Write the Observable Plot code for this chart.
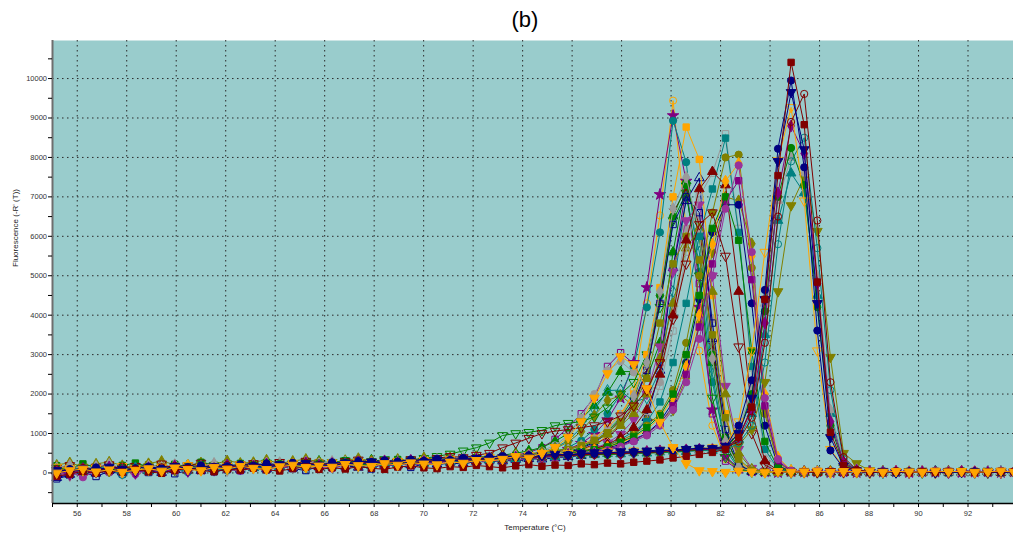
<!DOCTYPE html>
<html><head><meta charset="utf-8">
<script src="https://cdn.jsdelivr.net/npm/d3@7"></script>
<script src="https://cdn.jsdelivr.net/npm/@observablehq/plot@0.6"></script>
<style>
html,body{margin:0;padding:0;background:#fff;overflow:hidden;}
#wrap{position:relative;width:1013px;height:538px;overflow:hidden;}
#title{height:40px;width:1050px;text-align:center;font:22px "Liberation Sans",Arial,sans-serif;line-height:40px;color:#000;}
#chart svg{display:block;max-width:none;}
</style></head><body>
<div id="wrap"><div id="title">(b)</div><div id="chart"></div></div>
<script>
// Temperature grid (°C)
const temps = [55.17,55.70,56.23,56.76,57.29,57.82,58.35,58.88,59.41,59.94,60.47,61.00,61.53,62.06,62.59,
63.12,63.65,64.18,64.71,65.24,65.77,66.30,66.83,67.36,67.89,68.42,68.95,69.48,70.01,70.54,
71.07,71.60,72.13,72.66,73.19,73.72,74.25,74.78,75.31,75.84,76.37,76.90,77.43,77.96,78.49,
79.02,79.55,80.08,80.61,81.14,81.67,82.20,82.73,83.26,83.79,84.32,84.85,85.38,85.91,86.44,
86.97,87.50,88.03,88.56,89.09,89.62,90.15,90.68,91.21,91.74,92.27,92.80,93.33,93.86,94.39];

const xMajor = [56,58,60,62,64,66,68,70,72,74,76,78,80,82,84,86,88,90,92,94];
const xMinor = [55,57,59,61,63,65,67,69,71,73,75,77,79,81,83,85,87,89,91,93];
const yMajor = [0,1000,2000,3000,4000,5000,6000,7000,8000,9000,10000];
const yMinor = [-500,500,1500,2500,3500,4500,5500,6500,7500,8500,9500,10500];

// -R'(T) values per well
const s01 = [40,90,60,120,80,150,110,70,130,160,100,140,180,120,170,
150,200,170,220,190,240,210,260,230,200,270,250,290,260,300,
280,320,300,350,330,380,360,420,400,480,560,700,950,1400,2100,
4300,6530,9440,6200,3100,1200,350,90,40,20,30,10,40,20,30,
10,30,20,40,10,30,20,10,40,20,30,10,20,40,30];
const s02 = [-60,20,80,40,110,60,130,90,50,120,150,90,160,130,110,
180,140,210,170,230,200,180,250,220,270,240,290,260,310,280,
330,300,360,340,390,370,430,460,520,600,750,980,1350,1900,2800,
4700,7060,9060,7400,4200,1600,420,120,50,30,10,40,20,30,10,
30,10,40,20,30,10,30,20,40,10,20,30,10,30,20];
const s03 = [80,30,110,70,40,130,90,150,100,70,140,180,120,160,200,
170,220,190,150,240,210,260,230,280,250,220,290,270,320,290,
340,310,370,350,400,440,420,480,540,650,820,1100,1500,2000,2700,
4200,6100,8930,7880,5100,2300,700,150,60,20,40,10,30,20,40,
20,10,30,40,20,10,30,20,10,40,30,20,10,30,20];
const s04 = [0,60,100,30,80,20,70,110,50,130,90,60,140,100,170,
120,90,160,200,140,180,150,220,190,170,240,200,260,230,210,
280,250,320,300,350,420,380,500,650,900,1300,1900,2520,2950,2750,
2140,1290,650,240,60,40,20,50,30,10,40,20,30,50,20,
40,30,50,20,40,30,20,50,30,40,20,30,50,20,40];
const s05 = [100,40,150,90,60,120,180,100,140,80,170,130,110,190,150,
210,170,140,230,190,250,220,180,270,240,210,280,250,310,270,
330,290,360,400,380,450,520,640,850,1150,1500,1920,2700,3050,2770,
2130,2800,5200,7200,4800,1500,300,80,30,50,20,40,10,30,20,
30,20,10,40,20,30,10,20,30,10,40,20,30,10,20];
const s06 = [50,120,80,160,110,70,140,190,100,150,210,120,170,230,140,
180,240,200,260,220,300,250,210,280,330,260,310,290,350,320,
380,340,410,390,450,500,560,650,800,1000,1370,1700,2040,2570,2570,
2400,3300,5600,7400,6000,2800,700,150,40,20,50,30,10,40,20,
10,40,20,30,10,20,40,30,20,10,30,40,20,10,30];
const s07 = [130,70,20,100,160,90,50,120,180,140,100,170,210,150,190,
230,160,200,250,180,230,270,200,240,300,260,230,300,280,330,
310,360,330,390,440,410,480,560,700,950,1400,2000,2600,2830,2550,
2000,2300,4100,6200,6500,3900,1300,250,60,30,20,40,10,30,20,
20,30,10,20,40,30,10,20,30,40,10,20,30,20,10];
const s08 = [20,100,50,140,90,40,130,80,160,110,60,150,200,140,110,
190,150,230,180,140,260,200,170,240,280,220,260,230,290,340,
300,350,320,370,420,390,460,530,640,820,1150,1600,2090,2100,1800,
1900,2600,4600,7000,5600,2500,600,100,40,20,30,10,40,20,30,
30,20,40,10,30,20,10,30,20,40,10,30,20,10,40];
const s09 = [60,10,90,130,70,120,40,160,100,140,190,110,150,90,180,
140,210,180,230,160,200,260,220,180,290,250,310,280,240,300,
350,320,380,360,420,470,450,520,620,780,1050,1450,1840,1960,1700,
1400,1300,1600,2400,3800,5600,7000,6900,5810,1600,250,60,30,20,40,
20,30,10,40,20,30,20,10,30,40,20,10,30,20,30];
const s10 = [110,60,140,90,170,120,80,150,200,130,170,110,190,230,160,
200,250,180,240,280,220,270,310,250,290,340,280,330,370,420,
480,560,640,760,950,1000,1030,1080,1200,1260,1300,1420,1650,2000,2300,
3000,4200,6400,7100,5000,1900,400,80,30,20,40,10,30,20,40,
40,20,30,10,20,40,30,20,10,30,20,40,10,20,30];
const s11 = [-120,-40,30,-10,60,20,90,50,10,80,120,60,100,140,90,
130,100,160,120,180,150,200,170,140,210,190,230,200,250,220,
270,240,290,320,300,340,360,350,380,410,440,490,560,680,900,
1400,2600,5200,6900,7480,3400,900,180,40,20,50,30,10,40,20,
30,10,40,20,30,20,10,40,30,20,10,30,40,20,10];
const s12 = [70,120,40,150,100,60,130,180,110,90,160,200,140,120,190,
160,220,180,150,230,270,210,190,260,230,290,250,220,300,270,
320,290,350,330,380,360,410,450,500,580,700,880,1150,1500,2000,
3000,4700,7000,8770,7950,4500,1500,300,60,20,30,10,40,20,30,
30,20,40,10,30,20,40,30,10,20,40,30,20,10,30];
const s13 = [-30,50,100,20,70,130,90,40,110,160,80,130,100,170,140,
200,150,120,190,240,170,220,200,160,240,280,220,260,240,300,
280,330,300,350,320,380,400,430,470,520,600,720,900,1200,1700,
2600,4400,6600,7200,6300,3200,900,160,50,20,40,10,30,20,10,
20,40,10,30,20,10,40,20,30,10,20,40,30,10,20];
const s14 = [30,80,130,60,100,20,90,140,70,120,170,100,60,150,130,
170,120,200,160,210,190,150,230,200,260,220,190,270,240,280,
250,310,290,340,310,360,340,390,430,470,530,620,760,980,1350,
2000,3200,5100,6400,6800,5000,2200,600,120,40,20,30,10,40,20,
10,30,20,40,10,30,20,10,30,40,20,10,30,20,40];
const s15 = [90,140,60,110,30,150,80,120,170,90,130,80,160,120,180,
220,170,140,210,250,190,160,240,210,180,260,230,290,260,240,
300,270,330,310,360,340,390,420,460,540,650,800,1050,1400,1900,
2800,4500,6500,7300,6100,3000,900,200,50,20,30,40,10,30,20,
40,20,30,10,40,20,30,20,10,30,20,10,40,30,20];
const s16 = [150,90,40,120,180,100,60,140,200,130,90,170,120,210,160,
130,190,240,180,150,220,270,210,180,250,300,240,210,280,260,
320,290,340,380,350,400,380,430,410,460,500,560,650,800,1000,
1400,2200,3600,5600,7000,7600,8600,6200,2500,500,80,30,20,40,10,
30,20,10,40,20,30,10,20,40,30,10,20,30,40,20];
const s17 = [10,70,120,50,100,150,80,40,110,170,120,90,150,190,130,
170,210,160,230,190,170,250,220,270,240,210,280,310,260,290,
340,300,370,350,390,430,410,460,440,490,530,600,700,850,1050,
1300,1800,2800,4300,6000,7200,8490,6100,2700,600,100,30,10,40,20,
20,40,30,10,20,30,40,10,20,30,20,40,10,20,30];
const s18 = [120,60,150,100,50,130,170,110,70,160,120,190,140,100,170,
200,240,180,150,220,260,200,240,290,230,270,250,310,280,330,
360,330,390,370,420,400,450,430,480,520,560,620,700,820,980,
1200,1500,2100,3300,5000,6600,8000,8070,5200,1500,200,40,20,30,10,
30,10,20,40,30,20,10,30,40,20,30,10,20,30,40];
const s19 = [40,-20,70,110,30,90,60,130,100,50,140,110,180,130,160,
120,190,150,210,170,230,200,160,250,220,190,260,230,300,270,
320,350,330,380,410,390,440,420,470,500,540,580,640,720,850,
1000,1300,1800,2800,4400,6100,6800,6800,4300,1200,180,30,10,20,40,
20,30,40,10,20,30,10,40,20,10,30,20,40,30,10];
const s20 = [60,110,20,80,140,90,50,120,160,100,70,140,190,120,150,
190,140,210,180,230,160,210,250,200,270,230,200,280,250,310,
290,340,310,360,340,390,420,400,450,490,540,610,720,900,1150,
1600,2500,4000,5900,7200,7640,7300,4600,1600,300,60,20,40,10,30,
10,30,20,40,10,20,30,40,20,10,30,20,10,40,20];
const s21 = [110,50,90,140,70,30,120,80,150,110,190,140,100,170,130,
160,210,170,230,200,160,240,220,190,260,230,280,250,220,300,
330,310,360,340,390,370,420,460,440,500,540,590,660,760,900,
1100,1400,1900,2700,4000,5800,7400,7850,5500,2000,400,60,20,30,10,
40,20,10,30,40,20,30,10,20,40,30,20,10,30,20];
const s22 = [-90,-20,50,10,80,40,110,70,30,100,150,90,130,80,160,
140,110,180,150,200,170,140,220,190,240,210,180,260,230,270,
300,280,330,310,360,340,390,420,400,450,490,540,600,690,820,
1000,1250,1700,2500,3700,5300,6900,7410,4900,1700,300,50,20,40,10,
20,40,30,10,20,30,20,40,10,30,20,10,40,20,30];
const s23 = [-80,-30,40,0,60,20,90,30,-10,70,110,60,30,100,70,
120,80,50,110,150,90,130,100,160,120,90,150,180,130,110,
160,140,190,160,130,180,210,170,200,190,230,210,250,230,270,
300,330,380,420,470,520,600,900,1670,4400,7540,10410,8830,4840,1030,
190,60,30,20,40,10,30,20,40,30,10,20,40,30,20];
const s24 = [20,100,60,140,80,40,120,160,110,70,150,190,130,170,220,
180,240,200,260,230,190,270,250,300,280,320,290,340,310,360,
330,380,360,400,430,410,450,440,480,460,500,490,520,510,540,
530,560,580,600,620,610,650,1200,2350,4640,8220,9950,7750,3610,570,
120,40,20,30,10,40,20,30,10,20,40,30,20,10,30];
const s25 = [90,40,130,70,110,160,100,60,140,180,120,90,160,200,150,
190,230,170,210,260,200,240,220,270,250,300,260,230,290,320,
300,350,330,370,350,400,380,420,450,430,470,460,500,480,520,
510,540,560,580,590,620,640,800,1400,3300,6500,8900,9610,6400,2300,
400,80,30,10,40,20,30,10,20,40,30,20,10,30,40];
const s26 = [130,80,30,110,70,150,100,60,140,90,170,130,110,180,140,
210,160,230,190,150,240,200,260,230,180,270,240,300,260,290,
320,300,340,370,350,390,410,400,430,450,440,470,460,490,510,
500,520,540,560,580,600,620,1000,2000,4100,7000,8240,7300,4200,1200,
230,70,40,20,10,30,20,40,10,30,20,10,40,30,20];
const s27 = [150,110,60,130,90,170,120,80,150,110,190,140,100,170,210,
160,230,190,250,210,180,260,220,280,250,220,300,270,320,290,
350,320,370,400,380,420,450,430,470,500,480,520,540,520,560,
550,580,600,590,620,640,660,1300,3100,5600,7920,9270,6900,3100,600,
150,50,20,40,30,10,20,30,40,20,10,30,20,40,10];
const s28 = [50,100,150,90,40,120,80,160,110,70,140,190,130,100,170,
140,200,170,220,190,250,210,180,240,280,230,270,300,250,290,
310,340,320,360,390,370,410,440,420,460,450,480,470,500,490,
520,510,540,560,570,590,610,700,1100,2300,4600,6780,7500,6130,2935,
500,240,60,30,20,40,10,30,20,40,30,10,20,40,30];
const s29 = [70,20,110,60,150,100,50,130,90,170,120,80,160,140,110,
170,140,210,180,240,200,170,250,220,280,240,210,290,270,320,
300,340,370,350,390,420,400,440,470,450,490,520,500,540,530,
560,580,570,600,630,620,680,1000,1900,4400,7900,9650,8200,4300,900,
170,60,20,40,10,30,20,10,40,20,30,10,40,20,30];
const s30 = [100,150,70,120,170,90,140,60,130,180,100,150,120,200,160,
130,190,160,210,180,230,170,250,210,190,260,230,280,250,300,
280,320,350,330,370,360,400,430,410,450,470,460,490,480,510,
500,530,550,540,580,570,600,850,1500,3500,6400,7600,7100,4500,1500,
260,80,30,40,20,10,30,40,20,30,10,20,30,40,20];
const s31 = [-150,-60,20,-90,40,-30,70,10,90,-20,60,120,30,90,60,
150,80,200,110,60,170,230,130,190,100,250,180,140,230,200,
260,220,300,270,330,290,360,400,450,520,620,780,1000,1350,1800,
2600,4300,6300,7000,6600,3800,1100,200,40,20,50,10,30,20,40,
10,40,20,30,10,20,30,40,10,20,30,10,40,20,30];
const s32 = [200,260,150,230,280,190,120,240,300,210,170,260,220,310,250,
270,330,240,300,350,280,230,320,370,300,260,350,310,390,340,
380,350,420,390,450,430,480,520,560,620,700,820,980,1200,1500,
2000,2900,4300,5700,6200,4600,2000,500,100,30,20,40,10,30,20,
30,20,40,10,30,20,10,30,40,20,10,30,20,40,10];
const s33 = [10,-70,60,140,80,-20,110,170,50,130,200,90,150,60,180,
120,200,260,160,230,120,210,280,190,250,170,300,230,270,210,
320,280,360,330,380,420,400,460,510,580,690,850,1100,1450,1950,
2800,4600,6700,7500,6100,2900,800,150,40,20,30,10,40,30,20,
20,30,10,40,20,30,40,10,20,30,10,40,20,30,10];
const s34 = [180,110,230,140,60,190,250,160,100,220,140,270,190,130,240,
180,260,210,150,280,230,190,310,250,200,290,340,260,220,310,
350,300,380,420,370,440,410,470,450,500,540,590,660,780,930,
1150,1450,2000,3000,4500,6200,7000,5900,3100,800,120,40,20,30,10,
40,20,30,10,40,20,30,20,10,40,30,20,10,30,20];
const s35 = [-40,30,-110,60,10,100,-30,80,130,40,110,70,150,100,50,
140,90,170,120,200,150,110,190,230,160,210,250,190,240,220,
280,250,310,290,340,320,370,400,380,430,470,520,580,670,800,
950,1200,1600,2300,3400,5000,6700,7800,5600,1900,350,60,20,40,10,
30,10,20,40,30,10,20,40,30,20,10,30,40,20,10];
const s36 = [120,190,70,150,210,110,170,90,230,140,190,250,160,120,210,
240,180,270,220,300,250,200,290,330,260,310,280,340,300,370,
420,390,450,500,640,760,880,1000,1060,1100,1150,1200,1300,1450,1700,
2100,2800,3900,5300,6300,6600,5500,3200,1000,200,40,20,30,10,40,
20,30,10,40,20,10,30,40,20,30,10,20,40,30,20];
const s37 = [60,-40,110,20,150,70,-10,130,90,180,40,140,100,200,120,
170,230,140,200,260,190,240,210,280,230,300,260,320,290,250,
330,300,350,380,360,400,420,390,440,470,450,490,510,480,520,
540,560,550,580,600,590,630,900,1600,3800,7100,8800,8100,4800,1300,
280,70,30,20,40,10,30,20,10,40,30,20,10,30,40];
const s38 = [140,200,90,170,230,120,60,180,150,220,110,170,250,190,140,
200,260,220,170,280,240,300,210,270,250,320,280,240,310,350,
330,380,360,410,390,430,460,440,480,500,490,520,510,540,530,
560,550,580,600,590,620,660,1100,2100,4300,6900,8000,7600,5000,1600,
300,90,40,20,30,10,40,20,30,10,20,40,30,20,10];
const s39 = [-20,60,130,40,100,-50,80,150,60,120,20,160,110,70,140,
160,120,190,230,170,210,150,250,200,270,230,190,280,250,300,
290,330,310,360,340,380,410,390,420,450,440,470,490,470,500,
510,530,520,550,570,560,600,750,1200,2800,5800,7900,8500,5700,2100,
350,70,20,40,30,10,20,40,30,10,20,30,40,10,20];
const s40 = [100,170,40,130,190,80,150,210,120,60,180,140,200,110,170,
230,170,260,200,150,250,210,280,240,190,300,260,220,300,340,
310,360,330,370,410,390,440,470,520,590,690,830,1020,1300,1700,
2400,3800,5300,6000,5400,3500,1400,350,70,30,20,40,10,30,20,
40,10,30,20,10,40,20,30,10,40,20,30,10,20,40];

// ---- styling (not data) ----
const triDown = {draw(ctx, size){const y=-Math.sqrt(size/(Math.sqrt(3)*3));ctx.moveTo(0,-2*y);ctx.lineTo(-Math.sqrt(3)*y,y);ctx.lineTo(Math.sqrt(3)*y,y);ctx.closePath();}};
const C = {orange:"#FFA500",purple:"#800080",teal:"#008080",green:"#008000",gray:"#9a9a9a",olive:"#808000",navy:"#000080",maroon:"#800000",magenta:"#993399"};
const styles = [
 [s01,C.orange,"circle",false],[s02,C.purple,"star",true],[s03,C.teal,"circle",true],
 [s05,C.purple,"square",false],[s06,C.green,"triangle",true],
 [s07,C.gray,"circle",true],[s08,C.teal,"diamond",false],[s09,C.olive,"diamond",true],
 [s10,C.green,triDown,false],[s11,C.navy,"triangle",false],[s12,C.orange,"square",true],
 [s13,C.maroon,"times",false],[s14,C.magenta,triDown,true],[s15,C.green,"circle",true],
 [s31,C.navy,"square",false],[s32,C.olive,"triangle",true],[s33,C.gray,"diamond",true],[s40,C.olive,"square",true],
 [s16,C.gray,"square",false],[s17,C.teal,"square",true],[s18,C.olive,"circle",true],
 [s19,C.navy,"circle",true],[s20,C.maroon,"triangle",true],[s21,C.orange,"diamond",true],
 [s22,C.purple,"square",true],[s34,C.green,"square",true],[s35,C.magenta,"circle",true],[s36,C.maroon,triDown,false],
 [s28,C.olive,triDown,true],[s30,C.teal,"triangle",true],[s38,C.gray,"triangle",true],[s39,C.teal,"circle",false],
 [s26,C.green,"circle",true],[s37,C.purple,"diamond",true],[s27,C.orange,triDown,false],[s25,C.maroon,"circle",false],
 [s29,C.navy,triDown,true],[s24,C.navy,"circle",true],[s23,C.maroon,"square",true],
 [s04,C.orange,triDown,true]
];

const xDomain=[55,94], yDomain=[-775,10965];
const marks = [
  Plot.frame({fill:"#99CCCC", stroke:null}),
  Plot.ruleX(xMajor, {stroke:"#2a2a2a", strokeDasharray:"1.5,3.5", strokeWidth:1}),
  Plot.ruleY(yMajor, {stroke:"#2a2a2a", strokeDasharray:"1.5,3.5", strokeWidth:1})
];
styles.forEach(([vals,color,sym,filled])=>{
  const d = temps.map((t,i)=>({t, v: vals[i]}));
  marks.push(Plot.line(d,{x:"t",y:"v",stroke:color,strokeWidth:1}));
  const stroked = (sym==="times");
  marks.push(Plot.dot(d,{x:"t",y:"v",symbol:sym,r:3.6,
     fill: (filled && !stroked) ? color : "none", stroke: color, strokeWidth: 1}));
});
marks.push(
  Plot.ruleX([xDomain[0]], {stroke:"#6e6e6e", strokeWidth:2}),
  Plot.ruleY([yDomain[0]], {stroke:"#000", strokeWidth:1.5}),
  Plot.axisX(xMajor, {tickSize:4, tickPadding:3, label:null, fontSize:7.5, stroke:"#000"}),
  Plot.axisX(xMinor, {tickSize:4, tickFormat:()=>"", label:null, stroke:"#000"}),
  Plot.axisY(yMajor, {tickSize:4, tickPadding:1.5, label:null, fontSize:7.5, stroke:"#000", tickFormat:d3.format("d")}),
  Plot.axisY(yMinor, {tickSize:4, tickFormat:()=>"", label:null, stroke:"#000"}),
  Plot.text(["Temperature (°C)"], {frameAnchor:"bottom", dy:26, fontSize:8, fill:"#222"}),
  Plot.text(["Fluorescence (-R' (T))"], {frameAnchor:"left", dx:-37, dy:-5, rotate:-90, fontSize:8, fill:"#222"})
);

const chart = Plot.plot({
  width:1017, height:498,
  marginLeft:52, marginRight:0, marginTop:0, marginBottom:35,
  x:{domain:xDomain, label:null},
  y:{domain:yDomain, label:null},
  style:{background:"#fff", maxWidth:"none", fontFamily:"'Liberation Sans', Arial, sans-serif", fontSize:"7.5px", color:"#333"},
  marks
});
document.getElementById("chart").appendChild(chart);
</script>
</body></html>
